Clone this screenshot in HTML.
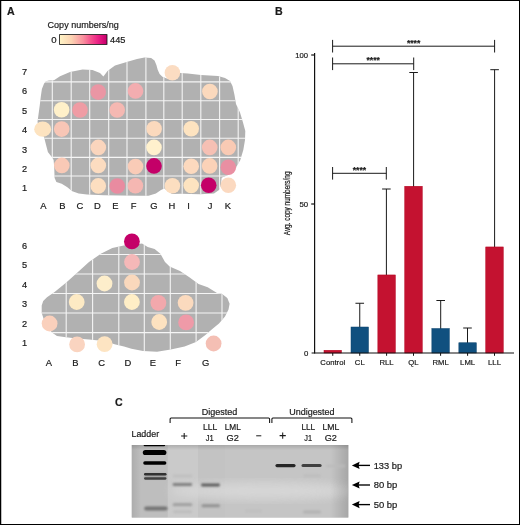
<!DOCTYPE html>
<html><head><meta charset="utf-8"><title>Figure</title>
<style>html,body{margin:0;padding:0;background:#fff;}body{width:520px;height:525px;overflow:hidden;font-family:"Liberation Sans",sans-serif;}svg{display:block;position:absolute;left:0;top:0;will-change:transform;}text{font-family:"Liberation Sans",sans-serif;fill:#1a1a1a;stroke:#1a1a1a;stroke-width:0.2px;}</style>
</head><body>
<svg width="520" height="525" viewBox="0 0 520 525">
<defs>
<linearGradient id="cb" x1="0" y1="0" x2="1" y2="0"><stop offset="0" stop-color="#fff4c6"/><stop offset="0.25" stop-color="#fcd3b2"/><stop offset="0.5" stop-color="#f98f9e"/><stop offset="0.65" stop-color="#f5558e"/><stop offset="0.8" stop-color="#ec2486"/><stop offset="0.92" stop-color="#d60a76"/><stop offset="1" stop-color="#c2006a"/></linearGradient>
<filter id="b1" x="-20%" y="-100%" width="140%" height="300%"><feGaussianBlur stdDeviation="0.7"/></filter>
<filter id="b2" x="-20%" y="-100%" width="140%" height="300%"><feGaussianBlur stdDeviation="1.2"/></filter>
<filter id="b3" x="-20%" y="-20%" width="140%" height="140%"><feGaussianBlur stdDeviation="5"/></filter>
<linearGradient id="gelv" x1="0" y1="0" x2="0" y2="1"><stop offset="0" stop-color="#a6a6a6"/><stop offset="0.06" stop-color="#bcbcbc"/><stop offset="0.5" stop-color="#c4c4c4"/><stop offset="1" stop-color="#c0c0c0"/></linearGradient>
<linearGradient id="edgeL" x1="0" y1="0" x2="1" y2="0"><stop offset="0" stop-color="#000" stop-opacity="0.10"/><stop offset="1" stop-color="#000" stop-opacity="0"/></linearGradient>
<linearGradient id="edgeR" x1="0" y1="0" x2="1" y2="0"><stop offset="0" stop-color="#000" stop-opacity="0"/><stop offset="1" stop-color="#000" stop-opacity="0.16"/></linearGradient>
<linearGradient id="edgeT" x1="0" y1="0" x2="0" y2="1"><stop offset="0" stop-color="#000" stop-opacity="0.14"/><stop offset="1" stop-color="#000" stop-opacity="0"/></linearGradient>
<clipPath id="gelclip"><rect x="131.8" y="445" width="216.5" height="72.4"/></clipPath>
<clipPath id="blobA"><path id="pA" d="M37.5,122 L38.5,114.5 L39.8,105 L40.9,95.7 L41.9,89 L44.1,83.4 Q45.6,80.9 48.8,80.6 L54,80.2 L60,76.2 L70,72 L82.5,69.6 L92.5,70 L100,73 L103.4,76.6 L107.5,71 L115,65.5 L120,64 L127.5,61.7 L137,59 L144.5,57.5 L151.1,57.9 L154.5,60.4 L156.4,65.1 L157.7,69.8 L159.6,74.1 L162.4,76.8 L166.2,78.3 L172,80 L179.9,73 L187.8,73.6 L201,74.9 L218,76 L225,78 L230,81 L232.5,86 L234.5,95 L236,104 L240,112.5 L243,122.5 L245.3,131 L245,140 L243.3,150 L241.2,157 L240.2,160.2 L236.4,166.8 L232,173 L227,175.6 L221.6,177.8 L221,185 L219,190 L214,193.4 L200,194.2 L181,193.8 L172,194 L164.3,188.5 L161,190 L155.9,193.6 L148.5,195.8 L140,195.8 L120,195.5 L104,195.2 L87,194.4 L78.7,193.4 L72.3,191.3 L67,187 L61.7,183.8 L56.4,182 L54.6,178 L54.2,167 L53.6,160 L52.2,157.4 L49.8,154.5 L47.9,152 L46,144.7 L44.1,137.2 L40,130 Z"/></clipPath>
<clipPath id="blobB"><path id="pB" d="M54.6,292 L66,282.7 L77.7,272.3 L89,262 L100.8,253.8 L112.3,248 L123.8,245.6 L132,245 L142,243.5 L147.7,247 L154.6,249 L160.4,253.8 L165,262 L169.6,266.5 L180,271 L189,277 L198.5,284 L207.7,287.3 L217,293 L221.5,293.5 L227.3,298 L229.6,303.8 L228.5,309.6 L225,316.5 L219,323.5 L212.3,329 L205.4,335 L196,342 L184.6,346.5 L170.8,349.5 L157,351.8 L143,351 L131.5,348.8 L124,346.5 L114.6,344.2 L104,341 L89,339.6 L77,338.5 L66,337.3 L57,336 L52.3,332.7 L46,326 L41.7,313 L41.7,305.5 L43.2,301 L47,297.3 Z"/></clipPath>
</defs>
<rect x="0" y="0" width="520" height="525" fill="#fff"/>
<rect x="0.5" y="0.5" width="519" height="524" fill="none" stroke="#000" stroke-width="1"/>
<rect x="0" y="0" width="1.25" height="525" fill="#000"/>
<text x="7" y="14.8" font-size="10.6" text-anchor="start" font-weight="bold" fill="#000" stroke="#000" stroke-width="0.55">A</text>
<text x="83.2" y="28.1" font-size="9.4" text-anchor="middle" font-weight="normal" textLength="71.2" lengthAdjust="spacingAndGlyphs">Copy numbers/ng</text>
<rect x="59.6" y="34.6" width="47.4" height="9.8" fill="url(#cb)" stroke="#111" stroke-width="0.8"/>
<text x="53.8" y="42.6" font-size="9.6" text-anchor="middle" font-weight="normal" >0</text>
<text x="117.8" y="42.6" font-size="9.6" text-anchor="middle" font-weight="normal" textLength="15.4" lengthAdjust="spacingAndGlyphs">445</text>
<path d="M37.5,122 L38.5,114.5 L39.8,105 L40.9,95.7 L41.9,89 L44.1,83.4 Q45.6,80.9 48.8,80.6 L54,80.2 L60,76.2 L70,72 L82.5,69.6 L92.5,70 L100,73 L103.4,76.6 L107.5,71 L115,65.5 L120,64 L127.5,61.7 L137,59 L144.5,57.5 L151.1,57.9 L154.5,60.4 L156.4,65.1 L157.7,69.8 L159.6,74.1 L162.4,76.8 L166.2,78.3 L172,80 L179.9,73 L187.8,73.6 L201,74.9 L218,76 L225,78 L230,81 L232.5,86 L234.5,95 L236,104 L240,112.5 L243,122.5 L245.3,131 L245,140 L243.3,150 L241.2,157 L240.2,160.2 L236.4,166.8 L232,173 L227,175.6 L221.6,177.8 L221,185 L219,190 L214,193.4 L200,194.2 L181,193.8 L172,194 L164.3,188.5 L161,190 L155.9,193.6 L148.5,195.8 L140,195.8 L120,195.5 L104,195.2 L87,194.4 L78.7,193.4 L72.3,191.3 L67,187 L61.7,183.8 L56.4,182 L54.6,178 L54.2,167 L53.6,160 L52.2,157.4 L49.8,154.5 L47.9,152 L46,144.7 L44.1,137.2 L40,130 Z" fill="#b1b1b1"/>
<g clip-path="url(#blobA)" stroke="#f5f5f5" stroke-width="1.1" fill="none">
<line x1="52.3" y1="50" x2="52.3" y2="200"/>
<line x1="71.2" y1="50" x2="71.2" y2="200"/>
<line x1="89.7" y1="50" x2="89.7" y2="200"/>
<line x1="108.7" y1="50" x2="108.7" y2="200"/>
<line x1="127.0" y1="50" x2="127.0" y2="200"/>
<line x1="145.9" y1="50" x2="145.9" y2="200"/>
<line x1="163.8" y1="50" x2="163.8" y2="200"/>
<line x1="182.2" y1="50" x2="182.2" y2="200"/>
<line x1="200.8" y1="50" x2="200.8" y2="200"/>
<line x1="219.6" y1="50" x2="219.6" y2="200"/>
<line x1="238.2" y1="50" x2="238.2" y2="200"/>
<line x1="30" y1="81.9" x2="250" y2="81.9"/>
<line x1="30" y1="100.7" x2="250" y2="100.7"/>
<line x1="30" y1="119.5" x2="250" y2="119.5"/>
<line x1="30" y1="138.2" x2="250" y2="138.2"/>
<line x1="30" y1="157.4" x2="250" y2="157.4"/>
<line x1="30" y1="176.0" x2="250" y2="176.0"/>
</g>
<circle cx="172.4" cy="72.8" r="7.8" fill="#fbdcc2"/>
<circle cx="98.2" cy="92.1" r="7.8" fill="#ea96a4"/>
<circle cx="135.5" cy="90.9" r="7.8" fill="#f3adb0"/>
<circle cx="209.9" cy="91.5" r="7.8" fill="#fbd9bd"/>
<circle cx="61.6" cy="109.8" r="7.8" fill="#fff0c9"/>
<circle cx="80" cy="110" r="7.8" fill="#ef9ca4"/>
<circle cx="117.2" cy="110" r="7.8" fill="#f5b8b2"/>
<ellipse cx="42.7" cy="129.2" rx="8.5" ry="7.6" fill="#fde3c0"/>
<circle cx="61.7" cy="129.1" r="7.8" fill="#f8c6b6"/>
<circle cx="154.1" cy="128.8" r="7.8" fill="#fbd9bd"/>
<circle cx="191.2" cy="128.7" r="7.8" fill="#fde3c0"/>
<circle cx="98.3" cy="147.4" r="7.8" fill="#fad5bd"/>
<circle cx="154.0" cy="147.4" r="7.8" fill="#fff1cd"/>
<circle cx="209.7" cy="147.4" r="7.8" fill="#f6c0b4"/>
<circle cx="228.3" cy="147.4" r="7.8" fill="#f9cab4"/>
<circle cx="61.8" cy="165.4" r="7.8" fill="#f9c9b6"/>
<circle cx="98.3" cy="165.4" r="7.8" fill="#fcdcc0"/>
<circle cx="135.5" cy="166.6" r="7.8" fill="#f9cbb7"/>
<circle cx="154.0" cy="165.9" r="7.8" fill="#c40068"/>
<circle cx="191.2" cy="166.2" r="7.8" fill="#fcd9be"/>
<circle cx="209.6" cy="165.9" r="7.8" fill="#fbd2b8"/>
<circle cx="228.3" cy="167.2" r="7.8" fill="#e98fa2"/>
<circle cx="98.3" cy="185.9" r="7.8" fill="#fcdec0"/>
<circle cx="117.3" cy="186.0" r="7.8" fill="#e98ba0"/>
<circle cx="135.4" cy="185.8" r="7.8" fill="#f5b7b2"/>
<circle cx="172.4" cy="185.7" r="7.8" fill="#fcdec0"/>
<circle cx="191.2" cy="185.5" r="7.8" fill="#fde3c0"/>
<circle cx="208.7" cy="185.3" r="7.8" fill="#c40068"/>
<circle cx="228.3" cy="185.2" r="7.8" fill="#fbd9c0"/>
<text x="24.6" y="75.1" font-size="9.2" text-anchor="middle" font-weight="normal" >7</text>
<text x="24.6" y="94.39999999999999" font-size="9.2" text-anchor="middle" font-weight="normal" >6</text>
<text x="24.6" y="113.8" font-size="9.2" text-anchor="middle" font-weight="normal" >5</text>
<text x="24.6" y="133.3" font-size="9.2" text-anchor="middle" font-weight="normal" >4</text>
<text x="24.6" y="152.5" font-size="9.2" text-anchor="middle" font-weight="normal" >3</text>
<text x="24.6" y="171.9" font-size="9.2" text-anchor="middle" font-weight="normal" >2</text>
<text x="24.6" y="190.9" font-size="9.2" text-anchor="middle" font-weight="normal" >1</text>
<text x="43.5" y="208.7" font-size="9.4" text-anchor="middle" font-weight="normal" >A</text>
<text x="62.5" y="208.7" font-size="9.4" text-anchor="middle" font-weight="normal" >B</text>
<text x="80" y="208.7" font-size="9.4" text-anchor="middle" font-weight="normal" >C</text>
<text x="97.5" y="208.7" font-size="9.4" text-anchor="middle" font-weight="normal" >D</text>
<text x="115.5" y="208.7" font-size="9.4" text-anchor="middle" font-weight="normal" >E</text>
<text x="133.5" y="208.7" font-size="9.4" text-anchor="middle" font-weight="normal" >F</text>
<text x="154" y="208.7" font-size="9.4" text-anchor="middle" font-weight="normal" >G</text>
<text x="172" y="208.7" font-size="9.4" text-anchor="middle" font-weight="normal" >H</text>
<text x="188.5" y="208.7" font-size="9.4" text-anchor="middle" font-weight="normal" >I</text>
<text x="210" y="208.7" font-size="9.4" text-anchor="middle" font-weight="normal" >J</text>
<text x="228" y="208.7" font-size="9.4" text-anchor="middle" font-weight="normal" >K</text>
<path d="M54.6,292 L66,282.7 L77.7,272.3 L89,262 L100.8,253.8 L112.3,248 L123.8,245.6 L132,245 L142,243.5 L147.7,247 L154.6,249 L160.4,253.8 L165,262 L169.6,266.5 L180,271 L189,277 L198.5,284 L207.7,287.3 L217,293 L221.5,293.5 L227.3,298 L229.6,303.8 L228.5,309.6 L225,316.5 L219,323.5 L212.3,329 L205.4,335 L196,342 L184.6,346.5 L170.8,349.5 L157,351.8 L143,351 L131.5,348.8 L124,346.5 L114.6,344.2 L104,341 L89,339.6 L77,338.5 L66,337.3 L57,336 L52.3,332.7 L46,326 L41.7,313 L41.7,305.5 L43.2,301 L47,297.3 Z" fill="#b1b1b1"/>
<g clip-path="url(#blobB)" stroke="#f5f5f5" stroke-width="1.1" fill="none">
<line x1="66.2" y1="230" x2="66.2" y2="360"/>
<line x1="92.6" y1="230" x2="92.6" y2="360"/>
<line x1="118.8" y1="230" x2="118.8" y2="360"/>
<line x1="144.3" y1="230" x2="144.3" y2="360"/>
<line x1="170.3" y1="230" x2="170.3" y2="360"/>
<line x1="196.1" y1="230" x2="196.1" y2="360"/>
<line x1="222.0" y1="230" x2="222.0" y2="360"/>
<line x1="30" y1="254.5" x2="240" y2="254.5"/>
<line x1="30" y1="274.0" x2="240" y2="274.0"/>
<line x1="30" y1="293.5" x2="240" y2="293.5"/>
<line x1="30" y1="313.0" x2="240" y2="313.0"/>
<line x1="30" y1="332.6" x2="240" y2="332.6"/>
</g>
<circle cx="131.9" cy="241.4" r="7.9" fill="#c40068"/>
<circle cx="132" cy="262" r="7.9" fill="#f5b8b8"/>
<circle cx="132" cy="282.5" r="7.9" fill="#fad8bc"/>
<circle cx="104.5" cy="283.5" r="7.9" fill="#fdeecb"/>
<circle cx="76.7" cy="302.0" r="7.9" fill="#fdeac4"/>
<circle cx="131.9" cy="302.0" r="7.9" fill="#ffeec6"/>
<circle cx="158.4" cy="302.8" r="7.9" fill="#f2a8ac"/>
<circle cx="185.6" cy="302.8" r="7.9" fill="#fbdabe"/>
<circle cx="49.6" cy="323.5" r="7.9" fill="#fad0bc"/>
<circle cx="159.2" cy="322" r="7.9" fill="#fde2c0"/>
<circle cx="186.1" cy="322.4" r="7.9" fill="#ef9aa8"/>
<circle cx="77.1" cy="344.4" r="7.9" fill="#fad4c0"/>
<circle cx="104.6" cy="344.2" r="7.9" fill="#fde4c2"/>
<circle cx="213.6" cy="343.5" r="7.9" fill="#f4bfb4"/>
<text x="24.6" y="248.79999999999998" font-size="9.2" text-anchor="middle" font-weight="normal" >6</text>
<text x="24.6" y="268.3" font-size="9.2" text-anchor="middle" font-weight="normal" >5</text>
<text x="24.6" y="287.8" font-size="9.2" text-anchor="middle" font-weight="normal" >4</text>
<text x="24.6" y="307.1" font-size="9.2" text-anchor="middle" font-weight="normal" >3</text>
<text x="24.6" y="326.6" font-size="9.2" text-anchor="middle" font-weight="normal" >2</text>
<text x="24.6" y="346.1" font-size="9.2" text-anchor="middle" font-weight="normal" >1</text>
<text x="48.8" y="366.2" font-size="9.4" text-anchor="middle" font-weight="normal" >A</text>
<text x="75.5" y="366.2" font-size="9.4" text-anchor="middle" font-weight="normal" >B</text>
<text x="101.7" y="366.2" font-size="9.4" text-anchor="middle" font-weight="normal" >C</text>
<text x="127.8" y="366.2" font-size="9.4" text-anchor="middle" font-weight="normal" >D</text>
<text x="153" y="366.2" font-size="9.4" text-anchor="middle" font-weight="normal" >E</text>
<text x="178.2" y="366.2" font-size="9.4" text-anchor="middle" font-weight="normal" >F</text>
<text x="205.6" y="366.2" font-size="9.4" text-anchor="middle" font-weight="normal" >G</text>
<text x="275" y="14.8" font-size="10.6" text-anchor="start" font-weight="bold" fill="#000" stroke="#000" stroke-width="0.55">B</text>
<rect x="324.0" y="350.25" width="17.5" height="2.75" fill="#c41230" stroke="#b3001c" stroke-width="0.5"/>
<line x1="359.75" y1="303.25" x2="359.75" y2="327.75" stroke="#1a1a1a" stroke-width="1"/>
<line x1="355.45" y1="303.25" x2="364.05" y2="303.25" stroke="#1a1a1a" stroke-width="1"/>
<rect x="351.0" y="327.0" width="17.5" height="26.0" fill="#10507f" stroke="#0b426c" stroke-width="0.5"/>
<line x1="386.4" y1="189.0" x2="386.4" y2="275.7" stroke="#1a1a1a" stroke-width="1"/>
<line x1="382.09999999999997" y1="189.0" x2="390.7" y2="189.0" stroke="#1a1a1a" stroke-width="1"/>
<rect x="377.85" y="274.95" width="17.5" height="78.05000000000001" fill="#c41230" stroke="#b3001c" stroke-width="0.5"/>
<line x1="413.6" y1="72.5" x2="413.6" y2="187.0" stroke="#1a1a1a" stroke-width="1"/>
<line x1="409.3" y1="72.5" x2="417.90000000000003" y2="72.5" stroke="#1a1a1a" stroke-width="1"/>
<rect x="404.75" y="186.25" width="17.5" height="166.75" fill="#c41230" stroke="#b3001c" stroke-width="0.5"/>
<line x1="440.7" y1="300.5" x2="440.7" y2="329.25" stroke="#1a1a1a" stroke-width="1"/>
<line x1="436.4" y1="300.5" x2="445.0" y2="300.5" stroke="#1a1a1a" stroke-width="1"/>
<rect x="431.85" y="328.5" width="17.5" height="24.5" fill="#10507f" stroke="#0b426c" stroke-width="0.5"/>
<line x1="467.5" y1="328.0" x2="467.5" y2="343.5" stroke="#1a1a1a" stroke-width="1"/>
<line x1="463.2" y1="328.0" x2="471.8" y2="328.0" stroke="#1a1a1a" stroke-width="1"/>
<rect x="458.85" y="342.75" width="17.5" height="10.25" fill="#10507f" stroke="#0b426c" stroke-width="0.5"/>
<line x1="494.6" y1="69.7" x2="494.6" y2="247.7" stroke="#1a1a1a" stroke-width="1"/>
<line x1="490.3" y1="69.7" x2="498.90000000000003" y2="69.7" stroke="#1a1a1a" stroke-width="1"/>
<rect x="485.75" y="246.95" width="17.5" height="106.05000000000001" fill="#c41230" stroke="#b3001c" stroke-width="0.5"/>
<line x1="314.6" y1="53" x2="314.6" y2="353.6" stroke="#111" stroke-width="1.2"/>
<line x1="311.6" y1="353" x2="514" y2="353" stroke="#111" stroke-width="1.2"/>
<line x1="311.2" y1="55" x2="314.6" y2="55" stroke="#111" stroke-width="1.2"/>
<line x1="311.2" y1="204" x2="314.6" y2="204" stroke="#111" stroke-width="1.2"/>
<line x1="332.75" y1="353" x2="332.75" y2="355.8" stroke="#111" stroke-width="1"/>
<line x1="359.75" y1="353" x2="359.75" y2="355.8" stroke="#111" stroke-width="1"/>
<line x1="386.6" y1="353" x2="386.6" y2="355.8" stroke="#111" stroke-width="1"/>
<line x1="413.5" y1="353" x2="413.5" y2="355.8" stroke="#111" stroke-width="1"/>
<line x1="440.6" y1="353" x2="440.6" y2="355.8" stroke="#111" stroke-width="1"/>
<line x1="467.6" y1="353" x2="467.6" y2="355.8" stroke="#111" stroke-width="1"/>
<line x1="494.5" y1="353" x2="494.5" y2="355.8" stroke="#111" stroke-width="1"/>
<text x="308.0" y="57.7" font-size="7.7" text-anchor="end" font-weight="normal" >100</text>
<text x="308.2" y="206.8" font-size="7.8" text-anchor="end" font-weight="normal" >50</text>
<text x="308.4" y="355.8" font-size="7.8" text-anchor="end" font-weight="normal" >0</text>
<text x="332.75" y="364.6" font-size="7.7" text-anchor="middle" font-weight="normal" >Control</text>
<text x="359.75" y="364.6" font-size="7.7" text-anchor="middle" font-weight="normal" >CL</text>
<text x="386.6" y="364.6" font-size="7.7" text-anchor="middle" font-weight="normal" >RLL</text>
<text x="413.5" y="364.6" font-size="7.7" text-anchor="middle" font-weight="normal" >QL</text>
<text x="440.6" y="364.6" font-size="7.7" text-anchor="middle" font-weight="normal" >RML</text>
<text x="467.6" y="364.6" font-size="7.7" text-anchor="middle" font-weight="normal" >LML</text>
<text x="494.5" y="364.6" font-size="7.7" text-anchor="middle" font-weight="normal" >LLL</text>
<text transform="translate(289.7,203.4) rotate(-90)" font-size="8.3" text-anchor="middle" textLength="63.8" lengthAdjust="spacingAndGlyphs" stroke="#1a1a1a" stroke-width="0.15">Avg. copy numbers/ng</text>
<line x1="332.6" y1="46.2" x2="494.6" y2="46.2" stroke="#1a1a1a" stroke-width="1"/>
<line x1="332.6" y1="39.900000000000006" x2="332.6" y2="52.5" stroke="#1a1a1a" stroke-width="1"/>
<line x1="494.6" y1="39.900000000000006" x2="494.6" y2="52.5" stroke="#1a1a1a" stroke-width="1"/>
<text x="413.6" y="45.5" font-size="8.6" text-anchor="middle" font-weight="bold" fill="#111">****</text>
<line x1="332.6" y1="63.8" x2="413.7" y2="63.8" stroke="#1a1a1a" stroke-width="1"/>
<line x1="332.6" y1="57.5" x2="332.6" y2="70.1" stroke="#1a1a1a" stroke-width="1"/>
<line x1="413.7" y1="57.5" x2="413.7" y2="70.1" stroke="#1a1a1a" stroke-width="1"/>
<text x="373.15" y="63.099999999999994" font-size="8.6" text-anchor="middle" font-weight="bold" fill="#111">****</text>
<line x1="332.6" y1="173.3" x2="386.3" y2="173.3" stroke="#1a1a1a" stroke-width="1"/>
<line x1="332.6" y1="167.0" x2="332.6" y2="179.60000000000002" stroke="#1a1a1a" stroke-width="1"/>
<line x1="386.3" y1="167.0" x2="386.3" y2="179.60000000000002" stroke="#1a1a1a" stroke-width="1"/>
<text x="359.45000000000005" y="172.60000000000002" font-size="8.6" text-anchor="middle" font-weight="bold" fill="#111">****</text>
<text x="115" y="405.6" font-size="10.6" text-anchor="start" font-weight="bold" fill="#000" stroke="#000" stroke-width="0.55">C</text>
<text x="219.6" y="415.0" font-size="9.0" text-anchor="middle" font-weight="normal" textLength="35.6" lengthAdjust="spacingAndGlyphs">Digested</text>
<text x="311.9" y="415.0" font-size="9.0" text-anchor="middle" font-weight="normal" textLength="45.4" lengthAdjust="spacingAndGlyphs">Undigested</text>
<path d="M170.1,423 V419 Q170.1,418 171.1,418 H268.6 Q269.6,418 269.6,419 V423" fill="none" stroke="#111" stroke-width="1.05"/>
<path d="M271.9,423 V419 Q271.9,418 272.9,418 H350.9 Q351.9,418 351.9,419 V423" fill="none" stroke="#111" stroke-width="1.05"/>
<text x="131.5" y="436.5" font-size="9.0" text-anchor="start" font-weight="normal" textLength="27.6" lengthAdjust="spacingAndGlyphs">Ladder</text>
<path d="M181.1,436.0 H187.29999999999998 M184.2,432.9 V439.1" stroke="#1a1a1a" stroke-width="1.05" fill="none"/>
<path d="M279.59999999999997,435.6 H285.8 M282.7,432.5 V438.70000000000005" stroke="#1a1a1a" stroke-width="1.05" fill="none"/>
<line x1="256.2" y1="435.8" x2="261.3" y2="435.8" stroke="#1a1a1a" stroke-width="1"/>
<text x="210.2" y="430.0" font-size="9.0" text-anchor="middle" font-weight="normal" textLength="14.3" lengthAdjust="spacingAndGlyphs">LLL</text>
<text x="209.8" y="440.8" font-size="9.0" text-anchor="middle" font-weight="normal" textLength="8.0" lengthAdjust="spacingAndGlyphs">J1</text>
<text x="232.8" y="430.0" font-size="9.0" text-anchor="middle" font-weight="normal" textLength="16.1" lengthAdjust="spacingAndGlyphs">LML</text>
<text x="232.7" y="440.8" font-size="9.0" text-anchor="middle" font-weight="normal" textLength="12.3" lengthAdjust="spacingAndGlyphs">G2</text>
<text x="308.3" y="430.0" font-size="9.0" text-anchor="middle" font-weight="normal" textLength="13.8" lengthAdjust="spacingAndGlyphs">LLL</text>
<text x="308.1" y="440.8" font-size="9.0" text-anchor="middle" font-weight="normal" textLength="7.8" lengthAdjust="spacingAndGlyphs">J1</text>
<text x="330.8" y="430.0" font-size="9.0" text-anchor="middle" font-weight="normal" textLength="16.8" lengthAdjust="spacingAndGlyphs">LML</text>
<text x="330.8" y="440.8" font-size="9.0" text-anchor="middle" font-weight="normal" textLength="12.2" lengthAdjust="spacingAndGlyphs">G2</text>
<g clip-path="url(#gelclip)">
<rect x="131" y="444" width="219" height="75" fill="#c4c4c4"/>
<rect x="131" y="444" width="36.8" height="75" fill="#bebebe"/>
<rect x="167.8" y="444" width="30.2" height="75" fill="#cacaca"/>
<rect x="198" y="444" width="27" height="75" fill="#c3c3c3"/>
<rect x="225" y="444" width="125" height="75" fill="#c5c5c5"/>
<ellipse cx="265" cy="491" rx="95" ry="9" fill="#dadada" opacity="0.8" filter="url(#b3)"/>
<rect x="131" y="444" width="10" height="75" fill="url(#edgeL)"/>
<rect x="330" y="444" width="19" height="75" fill="url(#edgeR)"/>
<rect x="131" y="445" width="219" height="5" fill="url(#edgeT)"/>
<rect x="143.6" y="443.8" width="21.599999999999994" height="2.4" rx="1.2" fill="#000" opacity="1" filter="url(#b1)"/>
<rect x="142.8" y="449.9" width="23.599999999999994" height="5.2" rx="2.6" fill="#000" opacity="1" filter="url(#b1)"/>
<rect x="143.2" y="461.3" width="23.200000000000017" height="3.4" rx="1.7" fill="#000" opacity="1" filter="url(#b1)"/>
<rect x="144.5" y="473.4" width="21.5" height="5.6" fill="#9a9a9a" opacity="0.7" filter="url(#b2)"/>
<rect x="144.0" y="472.95" width="22.5" height="2.5" rx="1.25" fill="#303030" opacity="1" filter="url(#b1)"/>
<rect x="144.0" y="477.35" width="22.5" height="2.3" rx="1.15" fill="#404040" opacity="1" filter="url(#b1)"/>
<rect x="144.2" y="506.6" width="23.400000000000006" height="3.8" rx="1.9" fill="#747474" opacity="1" filter="url(#b2)"/>
<rect x="172.5" y="474.5" width="20.0" height="3" rx="1.5" fill="#c0c0c0" opacity="1" filter="url(#b2)"/>
<rect x="172.6" y="483.1" width="19.599999999999994" height="2.8" rx="1.4" fill="#808080" opacity="1" filter="url(#b2)"/>
<rect x="172.6" y="503.09999999999997" width="19.80000000000001" height="3.2" rx="1.6" fill="#a2a2a2" opacity="1" filter="url(#b2)"/>
<rect x="173" y="510.3" width="19" height="3" rx="1.5" fill="#bdbdbd" opacity="1" filter="url(#b2)"/>
<rect x="201" y="483.6" width="19" height="2.8" rx="1.4" fill="#5c5c5c" opacity="1" filter="url(#b2)"/>
<rect x="201.5" y="504.3" width="18.5" height="3" rx="1.5" fill="#929292" opacity="1" filter="url(#b2)"/>
<rect x="275.4" y="464.0" width="20.200000000000045" height="3.2" rx="1.6" fill="#262626" opacity="1" filter="url(#b1)"/>
<rect x="301.5" y="464.0" width="20.100000000000023" height="3.0" rx="1.5" fill="#404040" opacity="1" filter="url(#b1)"/>
<rect x="326" y="464.8" width="19" height="2.4" rx="1.2" fill="#bcbcbc" opacity="1" filter="url(#b2)"/>
<rect x="303" y="474.3" width="18" height="3" rx="1.5" fill="#bebebe" opacity="1" filter="url(#b2)"/>
<rect x="303" y="510.5" width="18" height="3" rx="1.5" fill="#b2b2b2" opacity="1" filter="url(#b2)"/>
<rect x="245" y="509.5" width="17" height="3" rx="1.5" fill="#bfbfbf" opacity="1" filter="url(#b2)"/>
</g>
<line x1="357" y1="465.4" x2="370" y2="465.4" stroke="#000" stroke-width="1.35"/>
<path d="M351.9,465.4 L359.6,461.79999999999995 L358.6,465.4 L359.6,469.0 Z" fill="#000"/>
<text x="373.7" y="468.5" font-size="9.0" text-anchor="start" font-weight="normal" textLength="28.4" lengthAdjust="spacingAndGlyphs">133 bp</text>
<line x1="357" y1="485.0" x2="370" y2="485.0" stroke="#000" stroke-width="1.35"/>
<path d="M351.9,485.0 L359.6,481.4 L358.6,485.0 L359.6,488.6 Z" fill="#000"/>
<text x="373.7" y="488.1" font-size="9.0" text-anchor="start" font-weight="normal" textLength="23.6" lengthAdjust="spacingAndGlyphs">80 bp</text>
<line x1="357" y1="504.6" x2="370" y2="504.6" stroke="#000" stroke-width="1.35"/>
<path d="M351.9,504.6 L359.6,501.0 L358.6,504.6 L359.6,508.20000000000005 Z" fill="#000"/>
<text x="373.7" y="507.70000000000005" font-size="9.0" text-anchor="start" font-weight="normal" textLength="23.6" lengthAdjust="spacingAndGlyphs">50 bp</text>
</svg></body></html>
